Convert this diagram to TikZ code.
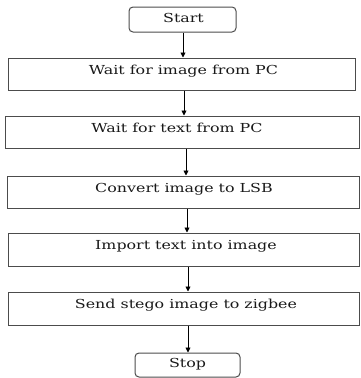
\documentclass[tikz,border=0pt]{standalone}
\usepackage{fontspec}
\setmainfont{DejaVu Serif}
\usetikzlibrary{arrows.meta}
\begin{document}
\begin{tikzpicture}[x=1pt,y=1pt,
  box/.style={draw=black!70, line width=1pt, rectangle, inner sep=0pt},
  term/.style={box, rounded corners=4pt},
  lbl/.style={anchor=base, inner sep=0pt, font=\fontsize{12.4}{14}\selectfont, text=black!90, xscale=1.28, transform shape},
  arr/.style={draw=black, line width=0.9pt, -{Triangle[length=5pt,width=5pt]}}]
\useasboundingbox (0,0) rectangle (360,-378);
\node[term, minimum width=107pt, minimum height=25pt] (s) at (182.5,-19.5) {};
\node[box, minimum width=347pt, minimum height=32pt] (b1) at (181.5,-74) {};
\node[box, minimum width=354pt, minimum height=32pt] (b2) at (182,-132) {};
\node[box, minimum width=352pt, minimum height=32pt] (b3) at (183,-192) {};
\node[box, minimum width=351pt, minimum height=33pt] (b4) at (184,-249.5) {};
\node[box, minimum width=351pt, minimum height=33pt] (b5) at (184,-308.5) {};
\node[term, minimum width=105pt, minimum height=24pt] (e) at (187.5,-365) {};
\node[lbl] (ts) at (183.5,-22.7) {Start};
\node[lbl] (t1) at (183.5,-74) {Wait for image from PC};
\node[lbl] (t2) at (177,-132) {Wait for text from PC};
\node[lbl] (t3) at (184,-192) {Convert image to LSB};
\node[lbl] (t4) at (186,-249.5) {Import text into image};
\node[lbl] (t5) at (186,-308) {Send stego image to zigbee};
\node[lbl] (te) at (187.5,-367.7) {Stop};
\draw[arr] (s.south -| 183,0) -- (b1.north -| 183,0);
\draw[arr] (b1.south -| 184,0) -- (b2.north -| 184,0);
\draw[arr] (b2.south -| 186,0) -- (b3.north -| 186,0);
\draw[arr] (b3.south -| 187,0) -- (b4.north -| 187,0);
\draw[arr] (b4.south -| 188,0) -- (b5.north -| 188,0);
\draw[arr] (b5.south -| 188,0) -- (e.north -| 188,0);
\end{tikzpicture}
\end{document}
